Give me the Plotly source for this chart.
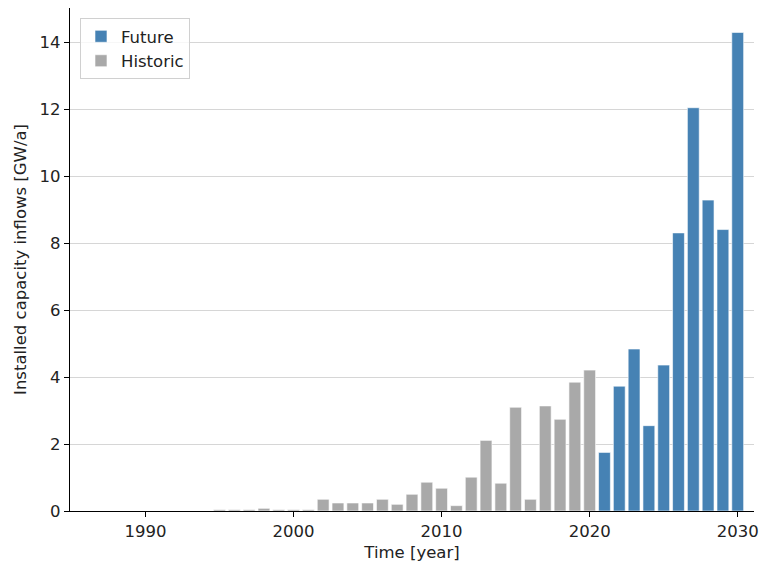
import plotly.graph_objects as go

hist_years = list(range(1995, 2021))
hist_values = [0.04, 0.04, 0.04, 0.08, 0.04, 0.04, 0.04, 0.35, 0.24, 0.24, 0.24, 0.35, 0.20,
               0.50, 0.86, 0.68, 0.16, 1.01, 2.11, 0.83, 3.10, 0.35, 3.14, 2.74, 3.85, 4.21]
fut_years = list(range(2021, 2031))
fut_values = [1.75, 3.73, 4.84, 2.55, 4.36, 8.31, 12.05, 9.29, 8.41, 14.30]

y_ticks = [0, 2, 4, 6, 8, 10, 12, 14]
x_ticks = [1990, 2000, 2010, 2020, 2030]

font = "DejaVu Sans"
fs = 16.5
fig = go.Figure()
fig.add_trace(go.Bar(x=fut_years, y=fut_values, name="Future", width=0.8,
                     marker=dict(color="#4682B4", line=dict(color="white", width=0.6))))
fig.add_trace(go.Bar(x=hist_years, y=hist_values, name="Historic", width=0.8,
                     marker=dict(color="#A9A9A9", line=dict(color="white", width=0.6))))

fig.update_layout(
    width=760, height=564,
    margin=dict(l=70, r=6, t=8, b=53),
    plot_bgcolor="white", paper_bgcolor="white",
    font=dict(family=font, size=fs, color="#222"),
    barmode="overlay",
    showlegend=True,
    legend=dict(x=0.0146, y=0.98, xanchor="left", yanchor="top",
                bgcolor="rgba(255,255,255,0.8)", bordercolor="#d0d0d0", borderwidth=1,
                font=dict(size=fs, family=font), traceorder="normal",
                tracegroupgap=0, itemwidth=30),
    xaxis=dict(range=[1984.9, 2031.1], tickvals=x_ticks, showgrid=False, zeroline=False,
               showline=True, linecolor="black", linewidth=1.2, ticks="outside", ticklen=5,
               tickcolor="black", title=dict(text="Time [year]", font=dict(size=fs), standoff=6),
               tickfont=dict(size=fs), automargin=False),
    yaxis=dict(range=[0, 15.03], tickvals=y_ticks, showgrid=True, gridcolor="#d6d6d6", gridwidth=1,
               zeroline=False, showline=True, linecolor="black", linewidth=1.2, ticks="outside",
               ticklen=5, tickcolor="black",
               title=dict(text="Installed capacity inflows [GW/a]", font=dict(size=fs), standoff=8),
               tickfont=dict(size=fs), automargin=False),
)
fig.write_html("out.html")
